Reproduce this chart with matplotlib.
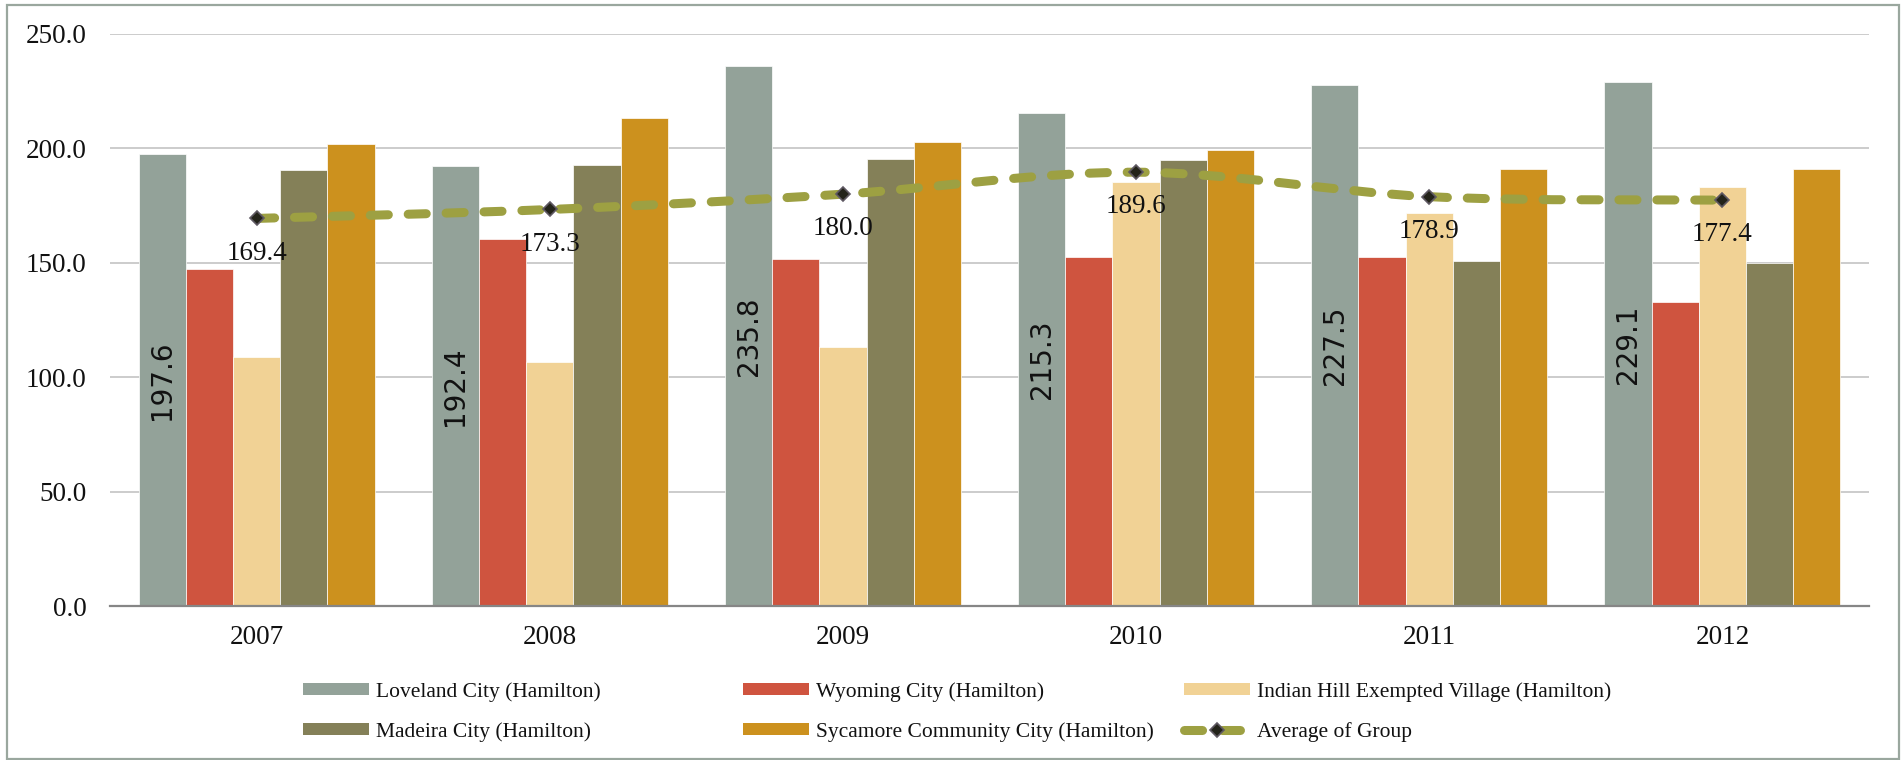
import matplotlib
matplotlib.use("Agg")
import matplotlib.pyplot as plt
import numpy as np
from matplotlib.lines import Line2D
from matplotlib.patches import Patch, PathPatch, Rectangle
from matplotlib.path import Path

# values
years = ["2007", "2008", "2009", "2010", "2011", "2012"]
loveland = [197.6, 192.4, 235.8, 215.3, 227.5, 229.1]
wyoming = [147.1, 160.6, 151.7, 152.7, 152.4, 133.0]
indian_hill = [109.0, 106.6, 113.2, 185.4, 171.8, 183.0]
madeira = [190.5, 192.7, 195.5, 194.8, 150.9, 150.0]
sycamore = [201.8, 213.1, 202.7, 199.3, 190.9, 191.1]
group_avg = [169.4, 173.3, 180.0, 189.6, 178.9, 177.4]

series_names = [
    "Loveland City (Hamilton)",
    "Wyoming City (Hamilton)",
    "Indian Hill Exempted Village (Hamilton)",
    "Madeira City (Hamilton)",
    "Sycamore Community City (Hamilton)",
]
avg_name = "Average of Group"
colors = ["#93a299", "#cf543f", "#f1d295", "#848058", "#cc911e"]
line_color = "#9da042"

SERIF = "Liberation Serif"
W, H = 1904, 760

fig = plt.figure(figsize=(W / 100, H / 100), dpi=100)
ax = fig.add_axes([110 / W, 1 - 606 / H, (1869 - 110) / W, (606 - 34) / H])

x = np.arange(len(years))
bar_w = 0.161
all_series = [loveland, wyoming, indian_hill, madeira, sycamore]

for j, (vals, col) in enumerate(zip(all_series, colors)):
    ax.bar(x + (j - 2) * bar_w, vals, bar_w, color=col,
           edgecolor="#ffffff", linewidth=0.5, zorder=2)

# rotated value labels inside the Loveland bars
for xi, v in zip(x, loveland):
    ax.text(xi - 2 * bar_w, v / 2, f"{v:.1f}", rotation=90,
            ha="center", va="center", fontsize=20,
            family="DejaVu Sans", color="#111111", zorder=5)

# smoothed average line (bezier through the points)
pts = np.column_stack([x, group_avg]).astype(float)
ext = np.vstack([pts[0], pts, pts[-1]])
verts = [pts[0]]
codes = [Path.MOVETO]
for i in range(len(pts) - 1):
    p0, p1, p2, p3 = ext[i], ext[i + 1], ext[i + 2], ext[i + 3]
    verts += [p1 + (p2 - p0) / 6, p2 - (p3 - p1) / 6, p2]
    codes += [Path.CURVE4] * 3

curve = PathPatch(Path(verts, codes), fill=False, edgecolor=line_color,
                  linewidth=6.5, linestyle=(0, (2.0, 2.2)),
                  capstyle="round", zorder=3)
ax.add_patch(curve)
ax.plot(x, group_avg, linestyle="none", marker="D", markersize=7.5,
        markerfacecolor="#23231a", markeredgecolor="#5e5862",
        markeredgewidth=1.2, zorder=4)

for xi, v in zip(x, group_avg):
    ax.annotate(f"{v:.1f}", (xi, v), xytext=(0, -25),
                textcoords="offset points", ha="center", va="center",
                fontsize=19.5, family=SERIF, color="#111111", zorder=5)

ax.set_xlim(-0.5, len(years) - 0.5)
ax.set_ylim(0, 250)
ax.set_yticks(np.arange(0, 251, 50))
ax.set_yticklabels([f"{t:.1f}" for t in np.arange(0, 251, 50)])
ax.set_xticks(x)
ax.set_xticklabels(years)

for lab in ax.get_xticklabels() + ax.get_yticklabels():
    lab.set_family(SERIF)
    lab.set_fontsize(19.5)
    lab.set_color("#111111")

ax.tick_params(axis="both", length=0)
ax.tick_params(axis="y", pad=17)
ax.tick_params(axis="x", pad=14)

ax.yaxis.grid(True, color="#c4c4c4", linewidth=1.2)
ax.set_axisbelow(True)
for side in ["top", "right", "left"]:
    ax.spines[side].set_visible(False)
ax.spines["bottom"].set_color("#868686")
ax.spines["bottom"].set_linewidth(1.6)
ax.spines["bottom"].set_zorder(3)

# legend, three columns like the original
handles = [Patch(facecolor=c, edgecolor="none") for c in colors]
avg_handle = Line2D([], [], color=line_color, linewidth=6.5,
                    dashes=(2.0, 2.2), dash_capstyle="round",
                    marker="D", markersize=7.5,
                    markerfacecolor="#23231a", markeredgecolor="#5e5862",
                    markeredgewidth=1.2)

columns = [
    ([handles[0], handles[3]], [series_names[0], series_names[3]], 303),
    ([handles[1], handles[4]], [series_names[1], series_names[4]], 743),
    ([handles[2], avg_handle], [series_names[2], avg_name], 1184),
]
for hs, labels, xpix in columns:
    leg = fig.legend(hs, labels, loc="center left",
                     bbox_to_anchor=(xpix / W, 1 - 712 / H),
                     frameon=False, prop={"family": SERIF, "size": 15.5},
                     handlelength=3.07, handleheight=0.5,
                     handletextpad=0.33, labelspacing=0.93,
                     borderpad=0, borderaxespad=0, numpoints=1)
    for t in leg.get_texts():
        t.set_color("#111111")

# outer chart frame
frame = Rectangle((7 / W, 1 / H), (1899 - 7) / W, (755 - 1) / H,
                  transform=fig.transFigure, fill=False,
                  edgecolor="#9aa79e", linewidth=1.6)
fig.add_artist(frame)

fig.savefig("out.png", dpi=100)
plt.close(fig)
